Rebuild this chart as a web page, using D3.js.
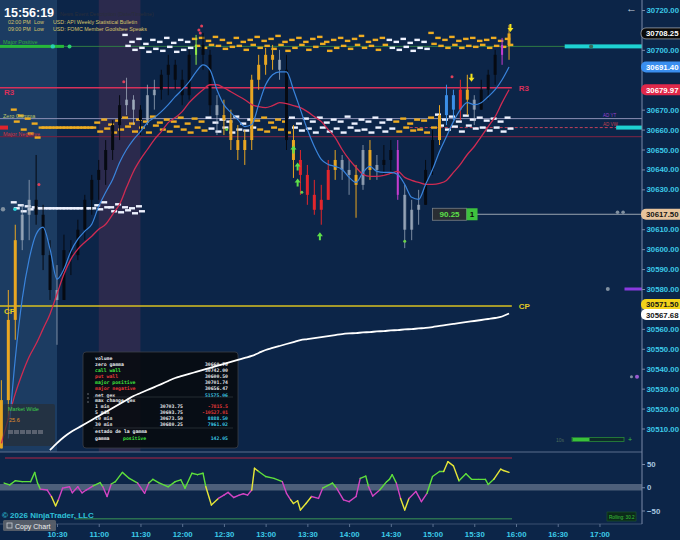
<!DOCTYPE html>
<html>
<head>
<meta charset="utf-8">
<script src="https://d3js.org/d3.v7.min.js"></script>
<style>
html, body { margin: 0; padding: 0; background: #0c2548; overflow: hidden; }
svg { display: block; }
</style>
</head>
<body>
<svg id="chart" width="680" height="540"></svg>
<script>
// ---- data ----
const barTimes = ["09:50","09:55","10:00","10:05","10:10","10:15","10:20","10:25","10:30","10:35","10:40","10:45","10:50","10:55",
  "11:00","11:05","11:10","11:15","11:20","11:25","11:30","11:35","11:40","11:45","11:50","11:55",
  "12:00","12:05","12:10","12:15","12:20","12:25","12:30","12:35","12:40","12:45","12:50","12:55",
  "13:00","13:05","13:10","13:15","13:20","13:25","13:30","13:35","13:40","13:45","13:50","13:55",
  "14:00","14:05","14:10","14:15","14:20","14:25","14:30","14:35","14:40","14:45","14:50","14:55",
  "15:00","15:05","15:10","15:15","15:20","15:25","15:30","15:35","15:40","15:45","15:50","15:55"];
const barHigh = [30534.25,30579.5,30612.25,30622.25,30634.75,30647.25,30622.25,30604.5,30592,30607.25,
  30604.5,30614.75,30627.25,30637.25,30644.75,30654.75,30664.75,30677.25,30686,30677.25,
  30672.25,30682.5,30685,30690,30697.5,30695,30690,30700,30707.5,30708.5,
  30700,30677.25,30675,30670,30662.25,30659.75,30687.5,30697.5,30701,30702.5,
  30700,30697.5,30662.25,30649.75,30642.25,30634.75,30632.25,30644.75,30649.75,30647.25,
  30644.75,30642.25,30652.25,30654.75,30647.25,30652.25,30654.75,30654.75,30632.25,30624.75,
  30629.75,30644.75,30659.75,30672.25,30682.5,30680,30685,30687.5,30677.25,30685,
  30690,30700,30706,30712.5];
const barLow = [30500,30514.25,30554.5,30599.5,30604.5,30612.25,30589.5,30574.5,30552,30579.5,
  30587,30594.5,30604.5,30617.25,30624.75,30632.25,30644.75,30654.75,30667.25,30662.25,
  30657.25,30662.25,30670,30675,30677.25,30680,30672.25,30675,30692.5,30690,
  30667.25,30657.25,30657.25,30649.75,30644.75,30642.25,30649.75,30680,30687.5,30690,
  30685,30649.75,30635.75,30627.25,30622.25,30617.25,30612.25,30624.75,30634.75,30634.75,
  30627.25,30615.75,30629.75,30634.75,30634.75,30637.25,30637.25,30624.75,30600.5,30604.5,
  30612.25,30622.25,30637.25,30652.25,30662.25,30664.75,30664.75,30667.25,30662.25,30670,
  30675,30682.5,30692.5,30695];
const barClose = [30524.25,30564.5,30604.5,30617.25,30624.75,30617.25,30597,30579.5,30574.5,30599.5,
  30597,30609.75,30624.75,30634.75,30639.75,30649.75,30662.25,30672.25,30675,30670,
  30664.75,30677.25,30680,30687.5,30692.5,30685,30677.25,30697.5,30702.5,30697.5,
  30672.25,30667.25,30664.75,30654.75,30649.75,30654.75,30685,30692.5,30697.5,30695,
  30690,30654.75,30644.75,30637.25,30627.25,30619.75,30624.75,30639.75,30644.75,30639.75,
  30637.25,30632.25,30649.75,30639.75,30642.25,30644.75,30649.75,30627.25,30609.75,30619.75,
  30622.25,30639.75,30654.75,30667.25,30677.25,30670,30680,30675,30670,30680,
  30687.5,30697.5,30702.5,30708.25];
// bar signal state: o=trend, g=neutral, k=impulse, r=sell, b=buy, m=exhaustion, l=break
const barState = ["o","o","o","g","g","k","k","k","g","k","k","k","k","k","k","k","k","k","g","g",
  "k","g","g","k","k","k","k","k","l","k","k","g","o","o","o","o","o","o","o","o",
  "g","k","o","r","r","r","r","r","o","g","g","o","g","o","g","k","k","m","g","g",
  "g","k","k","o","b","b","r","o","g","k","k","k","m","o"];

const fastMA = [null,30505,30545,30575,30595,30607.5,30611,30600,30585,30590,
  30599,30605,30609,30612.5,30621.5,30628.5,30635,30643.5,30650,30655,
  30659,30663.5,30666,30669,30672.5,30676.5,30680,30684,30689,30692.5,
  30690,30680,30672.5,30668.5,30665,30661.5,30662.5,30672.5,30682.5,30687.5,
  30689,30689,30680,30670,30660,30651.5,30645,30642.5,30641.5,30640,
  30636,30633.5,30638.5,30641.5,30639,30638.5,30638.5,30637.5,30632.5,30626,
  30625,30632.5,30640,30649,30656.5,30664,30670,30673.5,30672.5,30673.5,
  30676.5,30680,30685,30691.4];
const slowMA = [30502.5,30515,30527.5,30537.5,30546,30552.5,30560,30567.5,30577.5,30587.5,
  30595,30600,30603.5,30606.5,30610,30612.5,30617.5,30622.5,30631,30639,
  30645,30650,30655,30659,30663.5,30666,30669,30673.5,30677,30680,
  30682.5,30682.5,30681,30679,30677,30675,30672.5,30671.5,30671,30672,
  30673.5,30673,30672,30671,30669,30666.5,30664,30660,30656,30650,
  30645,30641,30637.5,30636.5,30636.5,30637,30638,30639,30636,30634.5,
  30633.5,30632.5,30632.5,30633,30634.5,30638.5,30642.5,30647.5,30651.5,30656.5,
  30661.5,30666.5,30673.5,30679.97];
const cumLine = [null,null,null,null,null,null,null,30499.2,30502.7,30505.75,
  30508.25,30510.25,30512.25,30514.3,30516.3,30518.3,30520.3,30522.3,30524.3,30526.3,
  30527.8,30529.3,30530.8,30532.3,30533.85,30535.35,30536.35,30537.4,30538.4,30539.4,
  30540.4,30541.4,30542.4,30543.4,30544.4,30545.4,30546.4,30547.9,30549.4,30550.4,
  30551.4,30552.4,30553.4,30554.4,30554.9,30555.4,30555.9,30556.4,30556.9,30557.4,
  30557.7,30557.9,30558.2,30558.4,30558.7,30558.9,30559.2,30559.4,30559.7,30559.9,
  30560.2,30560.45,30560.9,30561.45,30561.95,30562.45,30562.95,30563.45,30563.95,30564.45,
  30564.95,30565.45,30566.2,30567.68];

// gamma level dashes (upper = call side from bar 18, lower = zero gamma side from bar 2, mid from bar 2)
const callFrom = 18;
const callHi = [30707.5,30704,30705.5,30703,30705,30704,30706,30703.5,30705,30704,
  30705.5,30706,30704.5,30706.5,30705,30703.5,30706,30704,30705,30706.5,30704.5,30705.5,30707,30704,30705,30706,30704,30705.5,30706.5,30704,30705,30706,30704.5,30705.5,30707,30704,30705,30706,
  30705,30704,30705.5,30703.5,30705,30704,
  30708.5,30706,30705,30706.5,30704.5,30705.5,30706,30704.5,30705,30706,30704.5,30705.5];
const callLo = [30702,30700,30701,30699,30700.5,30699.5,30701.5,30699,30700,30701,
  30702,30701,30702.5,30702,30700.5,30701.5,30702,30700,30702.5,30701,30702,30700.5,30702.5,30699.5,30701,30702.5,30700,30701.5,30703,30699.5,30701,30702,30700.5,30702.5,30701,30702,30700,30702.5,
  30701,30700,30701.5,30699.5,30701,30700.5,
  30703,30702,30701,30702.5,30701,30702,30701.5,30702.5,30701,30702,30701.5,30702.5];
const callTone = "wwwwwwwwwwoooooooooooooooooooooooooooowwwwwwoooooooooooo".split("");
const zgFrom = 2;
const zgHi = [30670,30667,30665.5,30663,
  30661,30661,30661,30661,30661,30661,30661,30661,
  30663.5,30665,30662.5,30664.5,30666,30663,30665,30664,30666.5,30663.5,30665,30664,30666,30663,30665.5,30664,
  30666,30663.5,30665,30664,30666.5,30663,30665,
  30664.5,30666,30663.5,30665,30664,
  30666,30663,30665.5,30664,30666,30663.5,30665,30664,30666.5,30663,30665,30664,30666,30663.5,30665,
  30664,30665.5,30663,30665,30664.5,30666,
  30667.5,30665,30666.5,30664,30667,30665,30666,30664.5,30665.5,30664,30666];
const zgLo = [30664,30660,30658,30656,
  30661,30661,30661,30661,30661,30661,30661,30661,
  30659,30660.5,30658.5,30660,30661.5,30659,30661,30658.5,30662,30660,30659,30661.5,30660,30658.5,30661,30659.5,
  30660.5,30659,30661,30658.5,30660,30659.5,30661,
  30660,30659,30661,30660,30658.5,
  30661,30659.5,30660.5,30658.5,30661,30659,30660.5,30658.5,30661,30659.5,30660,30658.5,30661,30659,30660.5,
  30659,30661,30659.5,30660,30658.5,30661,
  30662,30660,30661.5,30659,30662,30660.5,30661,30659.5,30661,30659,30660.5];
const zgTone = "oooooooooooooooooooooooooooowwwwwwwooooowwwwwwwwwwwwwwwoooooowwwwwwwwwww".split("");
const midFrom = 2;
const midHi = [30623.5,30622,30621.5,30621,30620.5,30620.5,30620.5,30620.5,30620.5,30620.5,30620.5,30620.5,30622,30623.5,30621,30622.5,30621,30620.5,30621.5];
const midLo = [30620.5,30619,30620,30620.5,30620.5,30620.5,30620.5,30620.5,30620.5,30620.5,30620.5,30620.5,30620,30621,30619,30618.5,30619.5,30618,30619];

// key levels
const levelR3 = 30681, levelCP = 30571.5;
const levelMajorPos = 30701.74, levelZeroGamma = 30665.5, levelAdVw = 30661, levelMajorNeg = 30656.5;
const levelLast = 30617.5;

// price markers on the axis
const markerValues = [30708.25, 30691.40, 30679.97, 30617.50, 30571.50, 30567.68];

// signals
const signalTimes = ["13:20","13:23","13:23","13:39","15:28","15:56"];
const signalPrices = [30650, 30641.5, 30633.5, 30606.5, 30686, 30711];
const signalKind = ["up","up","up","up","down","down"];
const dotTimes = ["13:26","14:40","12:32","12:14","12:12","12:13","15:14","11:18","10:17"];
const dotPrices = [30628.5,30604,30660,30712,30710,30708.5,30686.5,30684,30632.5];
const dotKind = ["g","g","g","p","p","p","p","p","p"];

// oscillator
const oscTimes = ["09:52","09:56","10:00","10:05","10:11","10:14","10:16","10:18","10:23","10:26","10:29","10:31","10:34","10:39","10:41","10:45","10:48","10:51","10:56","11:01","11:03","11:06","11:09","11:12","11:17","11:22","11:28","11:33","11:36","11:39","11:43","11:50","11:55","11:59","12:02","12:07","12:11","12:15","12:17","12:21","12:26","12:30","12:33","12:37","12:41","12:44","12:47","12:50","12:52","12:55","13:00","13:06","13:12","13:15","13:18","13:20","13:23","13:25","13:29","13:33","13:38","13:41","13:48","13:51","13:56","14:00","14:05","14:08","14:12","14:14","14:17","14:22","14:27","14:29","14:31","14:34","14:37","14:40","14:43","14:48","14:52","14:56","15:00","15:05","15:08","15:11","15:15","15:19","15:24","15:28","15:33","15:38","15:40","15:44","15:49","15:51","15:55"];
const oscValues = [9,5,14,12,12,32,9,-4,-6,-20,-40,-27,-2,1,-12,1,-12,-6,3,10,1,-20,7,12,32,19,9,-13,9,17,10,1,12,16,-2,30,27,30,1,-38,-24,-17,-11,-22,-17,-14,-17,-6,41,34,23,19,12,-13,-27,-35,-29,-49,-35,-20,-24,-2,9,-2,-27,-31,-20,19,24,1,-19,-6,12,17,27,9,-24,-49,-24,-9,-31,-13,23,34,34,55,46,14,29,17,17,17,6,17,39,36,32];
const oscUpper = 63, oscLower = -68;

// axes
const priceTicks = [30510,30520,30530,30540,30550,30560,30570,30580,30590,30600,30610,30620,30630,30640,30650,30660,30670,30680,30690,30700,30710,30720];
const timeTicks = ["10:30","11:00","11:30","12:00","12:30","13:00","13:30","14:00","14:30","15:00","15:30","16:00","16:30","17:00"];
const oscTicks = [50, 0, -50];

// table
const gexLabels = ["zero gamma","call wall","put wall","major positive","major negative","net gex"];
const gexValues = ["30660.70","30742.00","30600.50","30701.74","30656.47","51575.06"];
const changeLabels = ["1 min","5 min","10 min","30 min"];
const changePrices = ["30703.75","30693.75","30673.50","30680.25"];
const changeGex = ["-7815.5","-10527.01","8888.50","7961.02"];
const gammaState = "positive", gammaValue = "142.05";

// ---- drawing ----
const W = 680, H = 540, axisX = 642, priceBottom = 452, oscBottom = 524;
const svg = d3.select("#chart");
const parseT = d3.timeParse("%H:%M");
const x = d3.scaleTime().domain([parseT("10:30"), parseT("16:00")]).range([57, 516]);
const y = d3.scaleLinear().domain([30510, 30720]).range([428.5, 10]);
const yo = d3.scaleLinear().domain([-50, 50]).range([510.5, 464]);
const sans = "'Liberation Sans', Arial, sans-serif";
const mono = "'DejaVu Sans Mono', monospace";
const cyan = "#3ccbe8";

svg.append("rect").attr("width", W).attr("height", H).attr("fill", "#0c2548");

const defs = svg.append("defs");
defs.append("clipPath").attr("id", "pc").append("rect")
  .attr("x", 0).attr("y", 0).attr("width", axisX).attr("height", priceBottom);
defs.append("clipPath").attr("id", "oc").append("rect")
  .attr("x", 0).attr("y", priceBottom).attr("width", axisX).attr("height", oscBottom - priceBottom);

const plot = svg.append("g").attr("clip-path", "url(#pc)");

// session shading
plot.append("rect").attr("x", x(parseT("09:30"))).attr("y", 0)
  .attr("width", x(parseT("10:30")) - x(parseT("09:30"))).attr("height", priceBottom).attr("fill", "#1c3c62");
plot.append("rect").attr("x", x(parseT("11:00"))).attr("y", 0)
  .attr("width", x(parseT("11:30")) - x(parseT("11:00"))).attr("height", priceBottom).attr("fill", "#2b2a4d");

// level lines
function hline(v, x0, x1, color, w, dash) {
  plot.append("line").attr("x1", x0).attr("x2", x1).attr("y1", y(v)).attr("y2", y(v))
    .attr("stroke", color).attr("stroke-width", w).attr("stroke-dasharray", dash || null);
}
hline(levelMajorPos, 0, axisX, "#2f7a44", 1);
hline(levelZeroGamma, 0, axisX, "#8c8fb4", 1);
hline(levelAdVw, x(parseT("14:40")), axisX, "#c0405a", 1, "3,2");
hline(levelMajorNeg, 0, axisX, "#6a2444", 1.2);
hline(levelR3, 0, x(parseT("15:57")), "#d8305a", 1.6);
hline(levelCP, 0, x(parseT("15:57")), "#d8c020", 1.4);
hline(levelLast, x(parseT("15:32")), axisX, "#9aa4b0", 1);

// left level bars
plot.append("rect").attr("x", 0).attr("y", y(levelMajorPos) - 1.5)
  .attr("width", x(parseT("10:35"))).attr("height", 3).attr("fill", "#27b83a");
plot.append("circle").attr("cx", x(parseT("10:27"))).attr("cy", y(levelMajorPos)).attr("r", 2.2).attr("fill", "#2ad0b0");
plot.append("circle").attr("cx", x(parseT("10:39"))).attr("cy", y(levelMajorPos)).attr("r", 2).attr("fill", "#2ad070");
plot.append("rect").attr("x", 0).attr("y", y(levelAdVw) - 2)
  .attr("width", 8).attr("height", 4).attr("fill", "#e0242c");
// right cyan bars
plot.append("rect").attr("x", x(parseT("16:35"))).attr("y", y(levelMajorPos) - 2)
  .attr("width", axisX - x(parseT("16:35"))).attr("height", 4).attr("fill", "#1ed2d2");
plot.append("rect").attr("x", x(parseT("17:12"))).attr("y", y(levelAdVw) - 2)
  .attr("width", axisX - x(parseT("17:12"))).attr("height", 4).attr("fill", "#1ed2d2");
plot.append("rect").attr("x", x(parseT("17:18"))).attr("y", y(30580) - 1.5)
  .attr("width", axisX - x(parseT("17:18"))).attr("height", 3).attr("fill", "#8a3ae0");
plot.append("circle").attr("cx", x(parseT("17:06"))).attr("cy", y(30580)).attr("r", 2).attr("fill", "#8090a0");
plot.append("circle").attr("cx", x(parseT("17:13"))).attr("cy", y(30618.5)).attr("r", 1.8).attr("fill", "#8090a0");
plot.append("circle").attr("cx", x(parseT("17:17"))).attr("cy", y(30618.5)).attr("r", 1.8).attr("fill", "#8090a0");
plot.append("circle").attr("cx", x(parseT("17:23"))).attr("cy", y(30536)).attr("r", 1.5).attr("fill", "#8090a0");
plot.append("circle").attr("cx", x(parseT("17:27"))).attr("cy", y(30536)).attr("r", 2).attr("fill", "#9a5ad0");
plot.append("circle").attr("cx", x(parseT("16:54"))).attr("cy", y(levelMajorPos)).attr("r", 2).attr("fill", "#3a6a58");

// gamma dashes
const toneColor = { o: "#eeac22", w: "#eef2ff" };
function dashes(from, hi, lo, tone, w) {
  hi.forEach((v, k) => {
    const cx = x(parseT(barTimes[from + k]));
    const c = tone ? toneColor[tone[k]] : "#eef2ff";
    [v, lo[k]].forEach((p, j) => {
      plot.append("rect").attr("x", cx - w / 2 + (j ? 1.5 : -1.5)).attr("y", y(p) - 1.2)
        .attr("width", w).attr("height", 2.4).attr("fill", c);
    });
  });
}
dashes(zgFrom, zgHi, zgLo, zgTone, 6);
dashes(midFrom, midHi, midLo, null, 6);
dashes(callFrom, callHi, callLo, callTone, 5.5);
plot.append("circle").attr("cx", 3).attr("cy", y(30620)).attr("r", 2.2).attr("fill", "#8090a0");
plot.append("circle").attr("cx", 15).attr("cy", y(30620)).attr("r", 1.8).attr("fill", "#2ad0d8");

// bars
const stateColor = { o: "#e8a622", g: "#a9b6c6", k: "#060a12", r: "#e2262c", b: "#3b8fe8", m: "#c43ccf", l: "#8ee84a" };
const stateOpacity = s => s === "g" ? 0.7 : 1;
const bars = barTimes.map((t, i) => ({
  t: parseT(t), o: i ? barClose[i - 1] : barLow[0], h: barHigh[i], l: barLow[i], c: barClose[i], s: barState[i]
}));
const bg = plot.append("g");
bg.selectAll("line").data(bars).enter().append("line")
  .attr("x1", d => x(d.t)).attr("x2", d => x(d.t))
  .attr("y1", d => y(Math.max(d.h, d.o))).attr("y2", d => y(Math.min(d.l, d.o)))
  .attr("stroke", d => stateColor[d.s]).attr("stroke-width", 1)
  .attr("opacity", d => stateOpacity(d.s));
bg.selectAll("rect").data(bars).enter().append("rect")
  .attr("x", d => x(d.t) - (d.s === "m" || d.s === "l" ? 1 : 1.5))
  .attr("width", d => d.s === "m" || d.s === "l" ? 2 : 3)
  .attr("y", d => y(Math.max(d.o, d.c)))
  .attr("height", d => Math.max(1, Math.abs(y(d.o) - y(d.c))))
  .attr("fill", d => stateColor[d.s])
  .attr("opacity", d => stateOpacity(d.s));

// moving averages
const maLine = arr => d3.line()
  .defined((d, i) => arr[i] !== null)
  .x((d, i) => x(parseT(barTimes[i])))
  .y((d, i) => y(arr[i]))
  .curve(d3.curveMonotoneX)(arr);
plot.append("path").attr("d", maLine(slowMA)).attr("fill", "none").attr("stroke", "#cf2b52").attr("stroke-width", 1.3);
plot.append("path").attr("d", maLine(fastMA)).attr("fill", "none").attr("stroke", "#3a84dc").attr("stroke-width", 1.2);

// signals
signalTimes.forEach((t, i) => {
  const cx = x(parseT(t)), cy = y(signalPrices[i]);
  const up = signalKind[i] === "up";
  const col = up ? "#5de04a" : "#f2e21e";
  const g = plot.append("g").attr("transform", `translate(${cx},${cy})`);
  if (up) {
    g.append("path").attr("d", "M0,-4 L3,0 L1,0 L1,4 L-1,4 L-1,0 L-3,0 Z").attr("fill", col);
  } else {
    g.append("path").attr("d", "M0,4 L3,0 L1,0 L1,-4 L-1,-4 L-1,0 L-3,0 Z").attr("fill", col);
  }
});
dotTimes.forEach((t, i) => {
  plot.append("circle").attr("cx", x(parseT(t))).attr("cy", y(dotPrices[i])).attr("r", 1.5)
    .attr("fill", dotKind[i] === "g" ? "#6ad04a" : "#e0405a");
});

// level labels
function ltxt(px, py, s, col, size, weight) {
  plot.append("text").attr("x", px).attr("y", py).text(s).attr("fill", col)
    .style("font-family", sans).style("font-size", size + "px").style("font-weight", weight || "normal");
}
ltxt(3, y(levelMajorPos) - 2, "Major Positive", "#2fae3a", 5.5);
ltxt(3, y(levelZeroGamma) - 1, "Zero Gamma", "#b8c46a", 5.5);
ltxt(3, y(levelMajorNeg) - 1, "Major Negative", "#d8303c", 5.5);
ltxt(4, y(levelR3) + 7, "R3", "#d8305a", 8, "bold");
ltxt(x(parseT("16:02")), y(levelR3) + 3, "R3", "#d8305a", 8, "bold");
ltxt(4, y(levelCP) + 8, "CP", "#e2ca24", 8, "bold");
ltxt(x(parseT("16:02")), y(levelCP) + 3, "CP", "#e2ca24", 8, "bold");
ltxt(603, y(levelZeroGamma) - 1.5, "AD YT", "#9a40d0", 4.5);
ltxt(603, y(levelAdVw) - 1.5, "AD VW", "#c04050", 4.5);

// last trade box
const boxX = x(parseT("15:00"));
const boxY = y(levelLast);
plot.append("rect").attr("x", boxX).attr("y", boxY - 6).attr("width", 34).attr("height", 12)
  .attr("fill", "#2a2e33").attr("stroke", "#7a8088").attr("stroke-width", 0.8);
plot.append("text").attr("x", boxX + 17).attr("y", boxY + 3).attr("text-anchor", "middle").text("90.25")
  .attr("fill", "#5de04a").style("font-family", sans).style("font-size", "8px").style("font-weight", "bold");
plot.append("rect").attr("x", boxX + 34).attr("y", boxY - 6).attr("width", 11).attr("height", 12).attr("fill", "#3ec23e");
plot.append("text").attr("x", boxX + 39.5).attr("y", boxY + 3).attr("text-anchor", "middle").text("1")
  .attr("fill", "#0a0a0a").style("font-family", sans).style("font-size", "8px").style("font-weight", "bold");

// market wide box
plot.append("rect").attr("x", 3).attr("y", 404).attr("width", 52).attr("height", 42).attr("rx", 2)
  .attr("fill", "#262d36").attr("opacity", 0.7);
ltxt(8, 411, "Market Wide", "#3ed04a", 5.5);
ltxt(9, 422, "25.6", "#e0902a", 5.5);
[0, 1, 2, 3, 4, 5].forEach(k => {
  plot.append("rect").attr("x", 8 + k * 6).attr("y", 430).attr("width", 5).attr("height", 4).attr("fill", "#5a6270");
});

// stats table
const tb = plot.append("g").attr("transform", "translate(83,352)");
tb.append("rect").attr("width", 155).attr("height", 96).attr("rx", 3)
  .attr("fill", "#07090d").attr("fill-opacity", 0.86).attr("stroke", "#3a3f48").attr("stroke-width", 0.8);
function ttxt(px, py, s, col, anchor) {
  tb.append("text").attr("x", px).attr("y", py).text(s).attr("fill", col)
    .attr("text-anchor", anchor || "start")
    .style("font-family", mono).style("font-size", "4.8px").style("font-weight", "bold");
}
const white = "#e6e8ec", green = "#3ee23e", red = "#e53838";
const gexColors = [white, green, red, green, red, white];
ttxt(12, 8, "volume", white);
gexLabels.forEach((s, i) => {
  ttxt(12, 14 + i * 6.1, s, gexColors[i]);
  ttxt(145, 14 + i * 6.1, gexValues[i], i === 5 ? cyan : white, "end");
});
tb.append("line").attr("x1", 10).attr("x2", 150).attr("y1", 45).attr("y2", 45).attr("stroke", "#3a3f48").attr("stroke-width", 0.6);
ttxt(12, 50, "max change gex", white);
changeLabels.forEach((s, i) => {
  const py = 56 + i * 6;
  ttxt(12, py, s, white);
  ttxt(100, py, changePrices[i], white, "end");
  ttxt(145, py, changeGex[i], changeGex[i].startsWith("-") ? red : cyan, "end");
});
tb.append("line").attr("x1", 10).attr("x2", 150).attr("y1", 76).attr("y2", 76).attr("stroke", "#3a3f48").attr("stroke-width", 0.6);
ttxt(12, 81, "estado de la gamma", white);
ttxt(12, 88, "gamma", white);
ttxt(40, 88, gammaState, green);
ttxt(145, 88, gammaValue, cyan, "end");
[42, 46, 50].forEach(py => tb.append("circle").attr("cx", 5).attr("cy", py).attr("r", 0.7).attr("fill", "#8a9098"));

// cumulative white line (over table)
plot.append("path").attr("d", maLine(cumLine)).attr("fill", "none").attr("stroke", "#ffffff").attr("stroke-width", 1.8);

// ---- oscillator panel ----
const osc = svg.append("g").attr("clip-path", "url(#oc)");
osc.append("rect").attr("x", 0).attr("y", yo(7)).attr("width", axisX).attr("height", yo(-7) - yo(7))
  .attr("fill", "#8d9aab").attr("opacity", 0.5);
osc.append("line").attr("x1", 5).attr("x2", x(parseT("16:00")) - 4).attr("y1", yo(oscUpper)).attr("y2", yo(oscUpper))
  .attr("stroke", "#7a2444").attr("stroke-width", 1.5);
osc.append("line").attr("x1", x(parseT("10:43"))).attr("x2", x(parseT("16:00")) - 4).attr("y1", yo(oscLower)).attr("y2", yo(oscLower))
  .attr("stroke", "#2b7050").attr("stroke-width", 1.5);
for (let i = 0; i < oscValues.length - 1; i++) {
  const a = oscValues[i], b = oscValues[i + 1];
  const col = Math.max(Math.abs(a), Math.abs(b)) >= 35 ? "#e6e638" : ((a + b) / 2 >= 0 ? "#5fe03c" : "#d444c4");
  osc.append("line")
    .attr("x1", x(parseT(oscTimes[i]))).attr("y1", yo(a))
    .attr("x2", x(parseT(oscTimes[i + 1]))).attr("y2", yo(b))
    .attr("stroke", col).attr("stroke-width", 1.4).attr("stroke-linecap", "round");
}

// panel separators
svg.append("line").attr("x1", 0).attr("x2", axisX).attr("y1", priceBottom).attr("y2", priceBottom).attr("stroke", "#5a6e8c").attr("stroke-width", 1);
svg.append("line").attr("x1", 0).attr("x2", axisX).attr("y1", oscBottom).attr("y2", oscBottom).attr("stroke", "#3a5070").attr("stroke-width", 1);
svg.append("line").attr("x1", axisX).attr("x2", axisX).attr("y1", 0).attr("y2", oscBottom).attr("stroke", "#7a8aa8").attr("stroke-width", 1);

// price axis: labels hidden behind a marker are not drawn
const visibleTicks = priceTicks.filter(t => markerValues.every(m => Math.abs(y(t) - y(m)) > 7.5));
const pa = svg.append("g").attr("transform", `translate(${axisX},0)`)
  .call(d3.axisRight(y).tickValues(visibleTicks).tickFormat(d3.format(".2f")).tickSize(3).tickPadding(1.5));
pa.select(".domain").remove();
pa.selectAll("line").attr("stroke", "#7a8aa8");
pa.selectAll("text").attr("fill", cyan).style("font-family", sans).style("font-size", "7.8px").style("font-weight", "bold");

// oscillator axis
const oa = svg.append("g").attr("transform", `translate(${axisX},0)`)
  .call(d3.axisRight(yo).tickValues(oscTicks).tickSize(3).tickPadding(2));
oa.select(".domain").remove();
oa.selectAll("line").attr("stroke", "#7a8aa8");
oa.selectAll("text").attr("fill", "#a8c8e0").style("font-family", sans).style("font-size", "7.8px").style("font-weight", "bold");

// time axis
const ta = svg.append("g").attr("transform", `translate(0,${oscBottom})`)
  .call(d3.axisBottom(x).tickValues(timeTicks.map(parseT)).tickFormat(d3.timeFormat("%H:%M")).tickSize(3).tickPadding(4));
ta.select(".domain").remove();
ta.selectAll("line").attr("stroke", "#5a7090");
ta.selectAll("text").attr("fill", cyan).style("font-family", sans).style("font-size", "7.8px").style("font-weight", "bold");

// axis price markers
const markerFill = ["#0a0a0a", "#3a8ff0", "#e0284a", "#e8c49c", "#f2d21a", "#ffffff"];
const markerInk = ["#ffffff", "#ffffff", "#ffffff", "#151515", "#151515", "#151515"];
const markerShift = [0, 0, 0, 0, -1.5, 1];
markerValues.forEach((v, i) => {
  const my = y(v) + markerShift[i];
  svg.append("rect").attr("x", 641).attr("y", my - 5.5).attr("width", 44).attr("height", 11).attr("rx", 5)
    .attr("fill", markerFill[i]).attr("stroke", i === 0 ? "#d0d0d0" : "none").attr("stroke-width", 0.6);
  svg.append("text").attr("x", 646).attr("y", my + 3).text(d3.format(".2f")(v))
    .attr("fill", markerInk[i]).style("font-family", sans).style("font-size", "7.8px").style("font-weight", "bold");
});

// header / overlays
svg.append("text").attr("x", 4).attr("y", 17).text("15:56:19").attr("fill", "#ffffff")
  .style("font-family", sans).style("font-size", "12.5px").style("font-weight", "bold");
const hdr = svg.append("g").style("font-family", sans).style("font-size", "5.3px");
hdr.append("text").attr("x", 60).attr("y", 16).text("News Event Description (Date/Timeline)").attr("fill", "#2a2e3a");
hdr.append("text").attr("x", 8).attr("y", 24).text("02:00 PM").attr("fill", "#d6c46a");
hdr.append("text").attr("x", 34).attr("y", 24).text("Low").attr("fill", "#d6c46a");
hdr.append("text").attr("x", 53).attr("y", 24).text("USD: API Weekly Statistical Bulletin").attr("fill", "#d6c46a");
hdr.append("text").attr("x", 8).attr("y", 31).text("09:00 PM").attr("fill", "#d6c46a");
hdr.append("text").attr("x", 34).attr("y", 31).text("Low").attr("fill", "#d6c46a");
hdr.append("text").attr("x", 53).attr("y", 31).text("USD: FOMC Member Goolsbee Speaks").attr("fill", "#d6c46a");

svg.append("text").attr("x", 626).attr("y", 12).text("←").attr("fill", "#c8d0dc")
  .style("font-family", sans).style("font-size", "11px");

// refresh bar
svg.append("text").attr("x", 556).attr("y", 442).text("10s").attr("fill", "#4a6a5a")
  .style("font-family", sans).style("font-size", "5px");
svg.append("rect").attr("x", 572).attr("y", 437.5).attr("width", 52).attr("height", 4).attr("fill", "#0e2a2a").attr("stroke", "#2a8a3a").attr("stroke-width", 0.8);
svg.append("rect").attr("x", 572.5).attr("y", 438).attr("width", 17).attr("height", 3).attr("fill", "#3ac23a");
svg.append("text").attr("x", 628).attr("y", 442).text("+").attr("fill", "#3ac23a")
  .style("font-family", sans).style("font-size", "7px");

// footer
svg.append("text").attr("x", 2).attr("y", 518).text("© 2026 NinjaTrader, LLC").attr("fill", "#2fc0d8")
  .style("font-family", sans).style("font-size", "8px").style("font-weight", "bold");
svg.append("rect").attr("x", 3).attr("y", 520).attr("width", 53).attr("height", 11).attr("rx", 1.5).attr("fill", "#5c636c").attr("opacity", 0.9);
svg.append("rect").attr("x", 7).attr("y", 523).attr("width", 5).attr("height", 5).attr("fill", "none").attr("stroke", "#c8ccd2").attr("stroke-width", 0.8);
svg.append("text").attr("x", 15).attr("y", 528.5).text("Copy Chart").attr("fill", "#eceef0")
  .style("font-family", sans).style("font-size", "7px");
svg.append("rect").attr("x", 607).attr("y", 512).attr("width", 29).attr("height", 9).attr("fill", "#0c2a1a").attr("stroke", "#1c5a2a").attr("stroke-width", 0.6);
svg.append("text").attr("x", 609).attr("y", 518.5).text("Rolling: 30.2").attr("fill", "#3ac23a")
  .style("font-family", sans).style("font-size", "4.6px");
</script>
</body>
</html>
